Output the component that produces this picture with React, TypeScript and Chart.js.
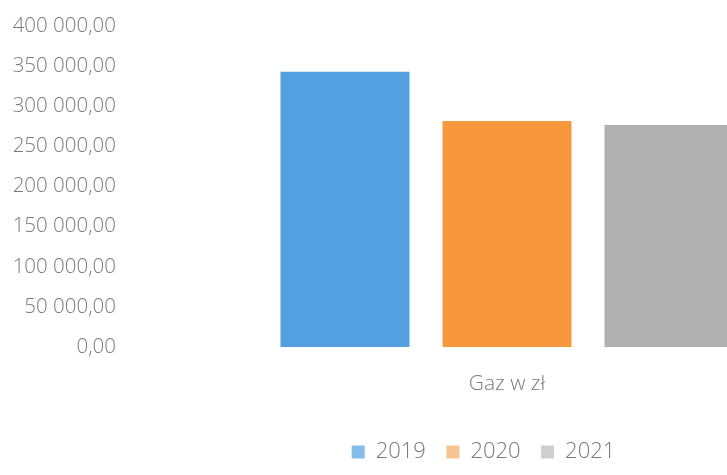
import React, { useEffect, useRef } from "react";
import { Chart, registerables } from "chart.js";

Chart.register(...registerables);

const categories = ["Gaz w zł"];
const seriesNames = ["2019", "2020", "2021"];
const values2019 = [343000];
const values2020 = [281600];
const values2021 = [276600];
const yTickValues = [0, 50000, 100000, 150000, 200000, 250000, 300000, 350000, 400000];

const barColors = ["#549fe0", "#f8983c", "#b0b0b0"];
const legendColors = ["#84bdea", "#f7c38e", "#cfcfcf"];

function formatPl(v: number): string {
  const [intPart, dec] = v.toFixed(2).split(".");
  const withSpaces = intPart.replace(/\B(?=(\d{3})+(?!\d))/g, " ");
  return withSpaces + "," + dec;
}

const FONT = "'Open Sans', 'DejaVu Sans', sans-serif";

export default function App() {
  const canvasRef = useRef<HTMLCanvasElement | null>(null);

  useEffect(() => {
    if (!canvasRef.current) return;
    const seriesValues = [values2019, values2020, values2021];
    const chart = new Chart(canvasRef.current, {
      type: "bar",
      data: {
        labels: categories,
        datasets: seriesNames.map((name, i) => ({
          label: name,
          data: seriesValues[i],
          backgroundColor: barColors[i],
          borderWidth: 0,
          yAxisID: "y",
          categoryPercentage: 0.628,
          barPercentage: 0.796,
        })),
      },
      options: {
        animation: false,
        responsive: false,
        maintainAspectRatio: false,
        layout: { padding: { top: 26, right: 0, bottom: 2, left: 0 } },
        plugins: {
          tooltip: { enabled: false },
          legend: {
            position: "bottom",
            labels: {
              boxWidth: 13,
              boxHeight: 13,
              padding: 20.5,
              color: "#7a7a7a",
              font: { family: FONT, size: 22, weight: 300 as any },
              generateLabels: (ch: any) => {
                const items = Chart.defaults.plugins.legend.labels.generateLabels(ch);
                return items.map((it: any, i: number) => ({
                  ...it,
                  fillStyle: legendColors[i],
                  strokeStyle: legendColors[i],
                  lineWidth: 0,
                }));
              },
            },
          },
        },
        scales: {
          x: {
            grid: { display: false, drawTicks: false },
            border: { display: false },
            ticks: {
              padding: 24,
              color: "#7a7a7a",
              font: { family: FONT, size: 21, weight: 300 as any },
            },
            afterFit: (scale: any) => {
              scale.height = 73.5;
            },
          },
          y: {
            position: "left",
            min: 0,
            max: 400000,
            grid: { display: false, drawTicks: false },
            border: { display: false },
            afterBuildTicks: (scale: any) => {
              scale.ticks = yTickValues.map((v) => ({ value: v }));
            },
            ticks: {
              padding: 4,
              color: "#7a7a7a",
              font: { family: FONT, size: 20.5, weight: 300 as any },
              callback: (v: any) => formatPl(Number(v)),
            },
            afterFit: (scale: any) => {
              scale.width = 120;
            },
          },
          yRight: {
            position: "right",
            min: 0,
            max: 400000,
            grid: { display: false, drawTicks: false },
            border: { display: false },
            ticks: { color: "rgba(0,0,0,0)", callback: () => "" },
            afterFit: (scale: any) => {
              scale.width = 73;
            },
          },
        },
      },
    });
    return () => chart.destroy();
  }, []);

  return (
    <div
      style={{
        position: "fixed",
        left: 0,
        top: 0,
        width: 727,
        height: 475,
        overflow: "hidden",
        background: "#ffffff",
      }}
    >
      <canvas ref={canvasRef} width={967} height={475} style={{ width: 967, height: 475, display: "block" }} />
    </div>
  );
}
